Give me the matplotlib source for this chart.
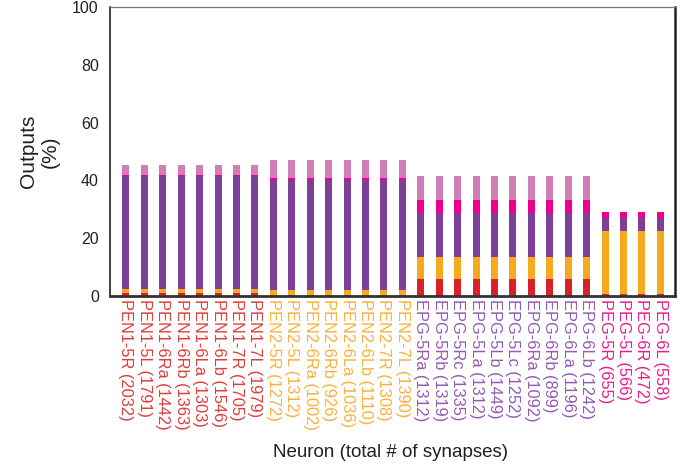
import matplotlib
matplotlib.use("Agg")
import matplotlib.pyplot as plt
import numpy as np

plt.rcParams['font.family'] = ['Liberation Sans', 'DejaVu Sans']

# Neuron names and total synapse counts, grouped by cell type
pen1_names = ["PEN1-5R", "PEN1-5L", "PEN1-6Ra", "PEN1-6Rb", "PEN1-6La", "PEN1-6Lb", "PEN1-7R", "PEN1-7L"]
pen1_syn = [2032, 1791, 1442, 1363, 1303, 1546, 1705, 1979]
pen2_names = ["PEN2-5R", "PEN2-5L", "PEN2-6Ra", "PEN2-6Rb", "PEN2-6La", "PEN2-6Lb", "PEN2-7R", "PEN2-7L"]
pen2_syn = [1272, 1312, 1002, 926, 1036, 1110, 1308, 1390]
epg_names = ["EPG-5Ra", "EPG-5Rb", "EPG-5Rc", "EPG-5La", "EPG-5Lb", "EPG-5Lc",
             "EPG-6Ra", "EPG-6Rb", "EPG-6La", "EPG-6Lb"]
epg_syn = [1312, 1319, 1335, 1312, 1449, 1252, 1092, 899, 1196, 1242]
peg_names = ["PEG-5R", "PEG-5L", "PEG-6R", "PEG-6L"]
peg_syn = [655, 566, 472, 558]

# Output percentages per target class (stack order bottom -> top)
out_red = [1.2] * 8 + [0.4] * 8 + [5.9] * 10 + [0.7] * 4
out_orange = [1.3] * 8 + [1.8] * 8 + [7.6] * 10 + [21.8] * 4
out_purple = [38.9] * 8 + [38.0] * 8 + [15.2] * 10 + [4.5] * 4
out_magenta = [0.6] * 8 + [0.7] * 8 + [4.5] * 10 + [2.1] * 4
out_pink = [3.3] * 8 + [6.2] * 8 + [8.3] * 10 + [0.0] * 4

stack_colors = ["#DA2128", "#F8AA1E", "#7E3F98", "#EC008C", "#D07DB8"]
group_colors = {"PEN1": "#E23B3B", "PEN2": "#FBB03B", "EPG": "#9659B4", "PEG": "#EC1C8C"}

names = pen1_names + pen2_names + epg_names + peg_names
syn = pen1_syn + pen2_syn + epg_syn + peg_syn
labels = [f"{n} ({s})" for n, s in zip(names, syn)]
label_colors = ([group_colors["PEN1"]] * 8 + [group_colors["PEN2"]] * 8 +
                [group_colors["EPG"]] * 10 + [group_colors["PEG"]] * 4)

fig = plt.figure(figsize=(6.86, 4.75), dpi=100)
ax = fig.add_axes([0.1603, 0.3768, 0.8237, 0.6085])

x = np.arange(len(names))
bottom = np.zeros(len(names))
for vals, col in zip([out_red, out_orange, out_purple, out_magenta, out_pink], stack_colors):
    v = np.array(vals)
    ax.bar(x, v, width=0.38, bottom=bottom, color=col, linewidth=0)
    bottom += v

ax.set_xlim(-0.87, len(names) - 0.2)
ax.set_ylim(0, 100)
ax.set_yticks([0, 20, 40, 60, 80, 100])
ax.tick_params(axis='y', length=0, pad=8, labelsize=11.5, labelcolor='#231F20')
ax.set_xticks(x)
ax.set_xticklabels(labels, rotation=270, fontsize=11.8)
ax.tick_params(axis='x', length=0, pad=2)
for t, c in zip(ax.get_xticklabels(), label_colors):
    t.set_color(c)

ax.spines['left'].set_color('#333333')
ax.spines['left'].set_linewidth(1.3)
ax.spines['bottom'].set_color('#333333')
ax.spines['bottom'].set_linewidth(2.0)
ax.spines['right'].set_color('#222222')
ax.spines['right'].set_linewidth(1.8)
ax.spines['top'].set_color('#777777')
ax.spines['top'].set_linewidth(0.9)

ax.set_ylabel("Outputs\n(%)", fontsize=15, labelpad=9, color='#231F20')
fig.text(0.569, 0.048, "Neuron (total # of synapses)", ha='center', va='center',
         fontsize=13.5, color='#231F20')

fig.savefig("out.png", dpi=100)
